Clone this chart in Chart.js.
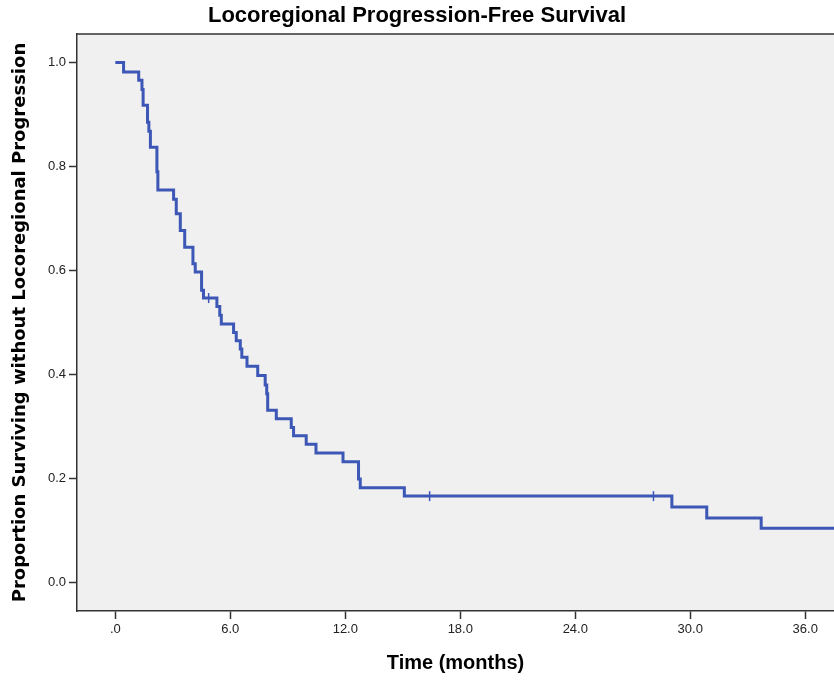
<!DOCTYPE html>
<html>
<head>
<meta charset="utf-8">
<script src="https://cdn.jsdelivr.net/npm/chart.js@4"></script>
<style>
    html, body { margin: 0; background: #fff; overflow: hidden; }
    #wrap { width: 834px; height: 681px; }
    canvas { display: block; }
</style>
</head>
<body>
<div id="wrap"><canvas id="kmChart"></canvas></div>
<script>
// Kaplan-Meier step points: time of event (months) and survival after it
const eventTimes = [0, 0.43, 1.22, 1.39, 1.45, 1.68, 1.75, 1.83, 2.17, 2.22, 3.04, 3.18, 3.39, 3.62, 4.05, 4.17, 4.5, 4.6, 5.3, 5.45, 5.53, 6.17, 6.31, 6.52, 6.6, 6.87, 7.43, 7.82, 7.9, 7.95, 8.4, 9.18, 9.3, 9.96, 10.47, 11.88, 12.69, 12.78, 15.08, 29.04, 30.86, 33.7, 37.5];
const survival = [1.0, 0.982, 0.966, 0.948, 0.918, 0.885, 0.868, 0.837, 0.79, 0.755, 0.737, 0.709, 0.677, 0.645, 0.613, 0.597, 0.562, 0.547, 0.531, 0.514, 0.497, 0.481, 0.465, 0.449, 0.433, 0.416, 0.398, 0.38, 0.363, 0.331, 0.315, 0.298, 0.282, 0.266, 0.249, 0.232, 0.199, 0.182, 0.166, 0.145, 0.124, 0.104, 0.104];

// censored cases
const censorTimes = [4.87, 16.4, 28.08];
const censorSurvival = [0.547, 0.166, 0.166];

const xTickValues = [0, 6, 12, 18, 24, 30, 36];
const xTickLabels = ['.0', '6.0', '12.0', '18.0', '24.0', '30.0', '36.0'];
const yTickValues = [0, 0.2, 0.4, 0.6, 0.8, 1.0];
const yTickLabels = ['0.0', '0.2', '0.4', '0.6', '0.8', '1.0'];

const lineColor = '#3c57b5';
const axisColor = '#333333';

const kmPoints = eventTimes.map((t, i) => ({ x: t, y: survival[i] }));
const censorPoints = censorTimes.map((t, i) => ({ x: t, y: censorSurvival[i] }));

// grey plot area with a top border, SPSS style
const plotBackground = {
    id: 'plotBackground',
    beforeDraw(chart) {
        const { ctx, chartArea } = chart;
        ctx.save();
        ctx.fillStyle = '#f0f0f0';
        ctx.fillRect(chartArea.left, chartArea.top, chartArea.right - chartArea.left, chartArea.bottom - chartArea.top);
        ctx.strokeStyle = axisColor;
        ctx.lineWidth = 1.5;
        ctx.beginPath();
        ctx.moveTo(chartArea.left, chartArea.top);
        ctx.lineTo(chartArea.right, chartArea.top);
        ctx.stroke();
        ctx.restore();
    }
};

const tickFont = { family: "'Liberation Sans', Arial, sans-serif", size: 13 };
const titleFont = { family: "'Liberation Sans', Arial, sans-serif", size: 22, weight: 'bold' };

new Chart(document.getElementById('kmChart').getContext('2d'), {
    type: 'line',
    data: {
        datasets: [
            {
                label: 'Survival',
                data: kmPoints,
                stepped: 'before',
                borderColor: lineColor,
                borderWidth: 3,
                pointRadius: 0,
                fill: false
            },
            {
                label: 'Censored',
                type: 'scatter',
                data: censorPoints,
                pointStyle: 'line',
                rotation: 90,
                pointRadius: 5,
                borderColor: lineColor,
                borderWidth: 1.5,
                backgroundColor: lineColor
            }
        ]
    },
    options: {
        responsive: true,
        maintainAspectRatio: false,
        animation: false,
        layout: { padding: 0, autoPadding: false },
        plugins: {
            legend: { display: false },
            tooltip: { enabled: false },
            title: {
                display: true,
                text: 'Locoregional Progression-Free Survival',
                color: '#000',
                font: titleFont,
                padding: { top: 3, bottom: 4.6 }
            }
        },
        scales: {
            x: {
                type: 'linear',
                min: -2,
                max: 37.5,
                afterFit: (scale) => { scale.height = 70; },
                afterBuildTicks: (scale) => { scale.ticks = xTickValues.map(v => ({ value: v })); },
                ticks: {
                    color: '#222',
                    font: tickFont,
                    padding: 3,
                    maxRotation: 0,
                    callback: (v) => xTickLabels[xTickValues.indexOf(v)]
                },
                grid: { drawOnChartArea: false, drawTicks: true, tickLength: 8, tickColor: axisColor, tickWidth: 1.5 },
                border: { display: true, color: axisColor, width: 1.5 },
                title: {
                    display: true,
                    text: 'Time (months)',
                    color: '#000',
                    font: { family: "'Liberation Sans', Arial, sans-serif", size: 20, weight: 'bold' },
                    padding: { top: 0, bottom: 6 }
                }
            },
            y: {
                min: -0.055,
                max: 1.055,
                afterFit: (scale) => { scale.width = 77; },
                afterBuildTicks: (scale) => { scale.ticks = yTickValues.map(v => ({ value: v })); },
                ticks: {
                    color: '#222',
                    font: tickFont,
                    padding: 3,
                    callback: (v) => yTickLabels[yTickValues.indexOf(v)]
                },
                grid: { drawOnChartArea: false, drawTicks: true, tickLength: 8, tickColor: axisColor, tickWidth: 1.5 },
                border: { display: true, color: axisColor, width: 1.5 },
                title: {
                    display: true,
                    text: 'Proportion Surviving without Locoregional Progression',
                    color: '#000',
                    font: { family: "'DejaVu Sans', Verdana, sans-serif", size: 18, weight: 'bold' },
                    padding: { top: 10, bottom: 0 }
                }
            }
        }
    },
    plugins: [plotBackground]
});
</script>
</body>
</html>
